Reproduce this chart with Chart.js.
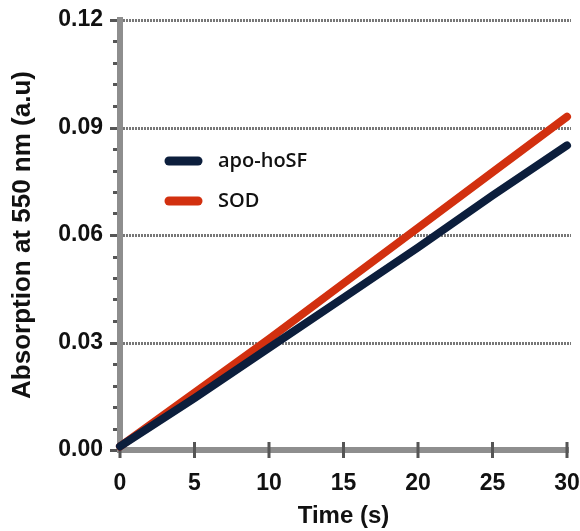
<!DOCTYPE html>
<html>
<head>
    <title>Absorption vs time</title>
    <script src="https://cdn.jsdelivr.net/npm/chart.js"></script>
    <style>
        html, body { margin: 0; padding: 0; background: #fff; overflow: hidden; }
        #wrap { width: 580px; height: 531px; overflow: hidden; }
        #absChart { display: block; }
    </style>
</head>
<body>
    <div id="wrap"><canvas id="absChart"></canvas></div>

    <script>
        // values
        const times = [0, 5, 10, 15, 20, 25, 30];
        const apoHoSF = [0.001, 0.0145, 0.0285, 0.0425, 0.0565, 0.071, 0.085];
        const sod = [0.001, 0.016, 0.031, 0.0465, 0.062, 0.0775, 0.093];
        const yTicks = [0, 0.03, 0.06, 0.09, 0.12];
        const xTicks = [0, 5, 10, 15, 20, 25, 30];

        const NAVY = '#0c1e3c';
        const RED = '#d2300f';
        const AXIS_GRAY = '#8e8e8e';
        const TICK_DARK = '#555555';
        const FONT = '"Liberation Sans", Arial, sans-serif';

        // gridlines, axis lines, ticks and the inset legend
        const decor = {
            id: 'decor',
            beforeDatasetsDraw(chart) {
                const c = chart.ctx, x = chart.scales.x, y = chart.scales.y;
                const x0 = x.getPixelForValue(0), x1 = x.getPixelForValue(30);
                const y0 = y.getPixelForValue(0), y1 = y.getPixelForValue(0.12);
                c.save();

                // dotted gridlines
                c.strokeStyle = '#777';
                c.lineWidth = 3;
                c.setLineDash([2, 1]);
                yTicks.slice(1).forEach(v => {
                    const py = Math.round(y.getPixelForValue(v)) + 0.5;
                    c.beginPath();
                    c.moveTo(x0 + 3, py);
                    c.lineTo(x1 + 4, py);
                    c.stroke();
                });
                c.setLineDash([]);

                // y ticks (major + minor) left of the axis
                c.fillStyle = TICK_DARK;
                for (let i = 0; i <= 20; i++) {
                    const py = Math.round(y.getPixelForValue(i * 0.006));
                    if (i % 5 === 0) c.fillRect(x0 - 10, py - 1, 7, 3);
                    else c.fillRect(x0 - 7, py - 1, 4, 3);
                }

                // axis lines
                c.fillStyle = AXIS_GRAY;
                c.fillRect(x0 - 3, y1 - 3, 6, y0 - y1 + 6);
                c.fillRect(x0 - 3, y0 - 3, x1 - x0 + 5, 6);

                // x ticks crossing the axis
                c.fillStyle = TICK_DARK;
                xTicks.forEach(v => {
                    const px = x.getPixelForValue(v);
                    c.fillRect(px - 1.5, y0 - 8, 3, 16);
                });
                c.restore();
            },
            afterDraw(chart) {
                const c = chart.ctx;
                const rows = [{ i: 0, y: 161 }, { i: 1, y: 201 }];
                c.save();
                rows.forEach(r => {
                    const ds = chart.data.datasets[r.i];
                    c.strokeStyle = ds.borderColor;
                    c.lineWidth = 9;
                    c.lineCap = 'round';
                    c.beginPath();
                    c.moveTo(169, r.y);
                    c.lineTo(198, r.y);
                    c.stroke();
                    c.fillStyle = '#111';
                    c.font = '600 20px "Open Sans", sans-serif';
                    c.textBaseline = 'middle';
                    c.fillText(ds.label, 218, r.y);
                });
                c.restore();
            }
        };

        const ctx = document.getElementById('absChart').getContext('2d');
        const chart = new Chart(ctx, {
            type: 'line',
            data: {
                datasets: [{
                    label: 'apo-hoSF',
                    data: times.map((t, i) => ({ x: t, y: apoHoSF[i] })),
                    borderColor: NAVY,
                    backgroundColor: NAVY,
                    borderWidth: 8,
                    borderCapStyle: 'round',
                    pointRadius: 0,
                    fill: false,
                    tension: 0,
                    clip: false
                }, {
                    label: 'SOD',
                    data: times.map((t, i) => ({ x: t, y: sod[i] })),
                    borderColor: RED,
                    backgroundColor: RED,
                    borderWidth: 8,
                    borderCapStyle: 'round',
                    pointRadius: 0,
                    fill: false,
                    tension: 0,
                    clip: false
                }]
            },
            options: {
                responsive: true,
                maintainAspectRatio: false,
                animation: false,
                layout: {
                    autoPadding: false,
                    padding: { top: 20, right: 13, bottom: 0, left: 0 }
                },
                plugins: {
                    legend: { display: false },
                    tooltip: { enabled: false }
                },
                scales: {
                    x: {
                        type: 'linear',
                        min: 0,
                        max: 30,
                        // tick padding also widens the edge padding, so use tickLength for the gap
                        grid: { display: false, drawTicks: true, tickLength: 20 },
                        border: { display: false },
                        ticks: {
                            stepSize: 5,
                            padding: 0,
                            color: '#111',
                            font: { family: FONT, size: 23, weight: 'bold' },
                            maxRotation: 0
                        },
                        title: {
                            display: true,
                            text: 'Time (s)',
                            color: '#111',
                            font: { family: FONT, size: 24, weight: 'bold' },
                            padding: { top: 0, bottom: 0 }
                        },
                        afterFit(scale) { scale.height = 81; }
                    },
                    y: {
                        min: 0,
                        max: 0.12,
                        grid: { display: false, drawTicks: true, tickLength: 17 },
                        border: { display: false },
                        ticks: {
                            stepSize: 0.03,
                            padding: 0,
                            color: '#111',
                            font: { family: FONT, size: 23, weight: 'bold' },
                            callback: v => v.toFixed(2)
                        },
                        title: {
                            display: true,
                            text: 'Absorption at 550 nm (a.u)',
                            color: '#111',
                            font: { family: FONT, size: 26, weight: 'bold' },
                            padding: { top: 7, bottom: 0 }
                        },
                        afterFit(scale) { scale.width = 120; }
                    }
                }
            },
            plugins: [decor]
        });
    </script>
</body>
</html>
